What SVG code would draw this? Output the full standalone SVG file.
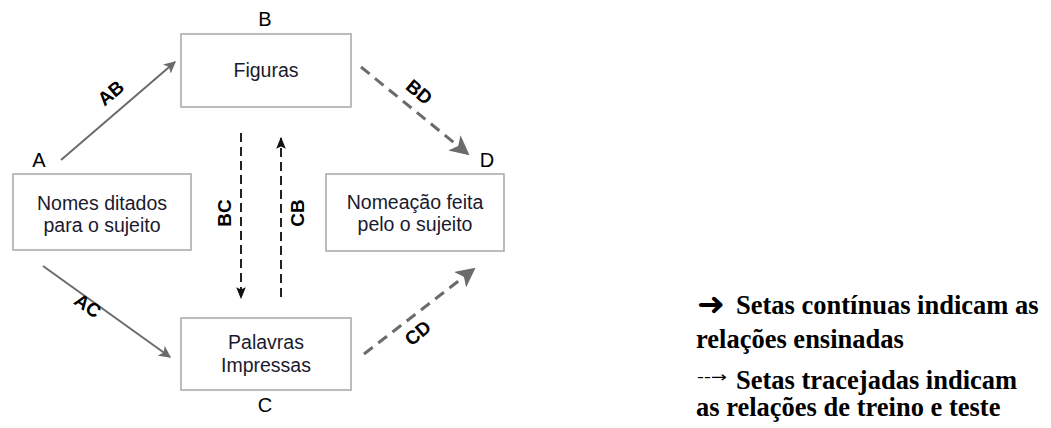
<svg xmlns="http://www.w3.org/2000/svg" width="1051" height="428" viewBox="0 0 1051 428">
  <style>
    .box { fill: #ffffff; stroke: #a6a6a6; stroke-width: 1.5; }
    .txt { font-family: "Liberation Sans", Arial, sans-serif; font-size: 19.5px; fill: #1a1a2e; text-anchor: middle; }
    .tag { font-family: "Liberation Sans", Arial, sans-serif; font-size: 20px; fill: #000; text-anchor: middle; }
    .elab { font-family: "Liberation Sans", Arial, sans-serif; font-size: 19px; font-weight: bold; fill: #000; text-anchor: middle; }
    .solid { stroke: #6b6b6b; stroke-width: 2; fill: none; }
    .dgray { stroke: #6b6b6b; stroke-width: 3; stroke-dasharray: 11 7; fill: none; }
    .dblack { stroke: #222; stroke-width: 2; stroke-dasharray: 9 5; fill: none; }
    .legend { font-family: "Liberation Serif", "Times New Roman", serif; font-size: 26.5px; font-weight: bold; fill: #000; }
    .sym { font-family: "DejaVu Sans", sans-serif; fill: #000; }
  </style>
  <defs>
    <marker id="headGray" viewBox="0 0 10 10" refX="9" refY="5" markerWidth="6" markerHeight="6" markerUnits="strokeWidth" orient="auto">
      <path d="M0,0 L10,5 L0,10 L2.5,5 z" fill="#6b6b6b"/>
    </marker>
    <marker id="headGrayBig" viewBox="0 0 10 10" refX="9" refY="5" markerWidth="6.5" markerHeight="6.5" markerUnits="strokeWidth" orient="auto">
      <path d="M0,0 L10,5 L0,10 L2.5,5 z" fill="#6b6b6b"/>
    </marker>
    <marker id="headBlack" viewBox="0 0 10 10" refX="9" refY="5" markerWidth="6" markerHeight="6" markerUnits="strokeWidth" orient="auto">
      <path d="M0,1 L10,5 L0,9 L2,5 z" fill="#111"/>
    </marker>
  </defs>

  <!-- Connectors -->
  <g id="connectors">
    <line id="AB" class="solid" x1="61" y1="160" x2="175" y2="62" marker-end="url(#headGray)"/>
    <line id="AC" class="solid" x1="43" y1="266" x2="170" y2="357" marker-end="url(#headGray)"/>
    <line id="BD" class="dgray" x1="361" y1="67" x2="468" y2="154" marker-end="url(#headGrayBig)"/>
    <line id="CD" class="dgray" x1="364" y1="354" x2="474" y2="269" marker-end="url(#headGrayBig)"/>
    <line id="BC" class="dblack" x1="241" y1="133" x2="241" y2="298" marker-end="url(#headBlack)"/>
    <line id="CB" class="dblack" x1="281" y1="297" x2="281" y2="138" marker-end="url(#headBlack)"/>

    <text class="elab" transform="translate(115,98) rotate(-40)">AB</text>
    <text class="elab" transform="translate(84,311) rotate(35)">AC</text>
    <text class="elab" transform="translate(415,97) rotate(40)">BD</text>
    <text class="elab" transform="translate(422,338) rotate(-40)">CD</text>
    <text class="elab" transform="translate(231,213) rotate(-90)">BC</text>
    <text class="elab" transform="translate(304,213) rotate(-90)">CB</text>
  </g>

  <!-- Node A -->
  <g id="nodeA">
    <text class="tag" x="39" y="167">A</text>
    <rect class="box" x="13" y="174" width="178" height="76"/>
    <text class="txt" x="102" y="210">Nomes ditados</text>
    <text class="txt" x="102" y="232">para o sujeito</text>
  </g>

  <!-- Node B -->
  <g id="nodeB">
    <text class="tag" x="265" y="26">B</text>
    <rect class="box" x="181" y="34" width="170" height="73"/>
    <text class="txt" x="266" y="77">Figuras</text>
  </g>

  <!-- Node C -->
  <g id="nodeC">
    <rect class="box" x="181" y="318" width="170" height="72"/>
    <text class="txt" x="266" y="349">Palavras</text>
    <text class="txt" x="266" y="372">Impressas</text>
    <text class="tag" x="265" y="412">C</text>
  </g>

  <!-- Node D -->
  <g id="nodeD">
    <text class="tag" x="487" y="167">D</text>
    <rect class="box" x="326" y="174" width="178" height="77"/>
    <text class="txt" x="415" y="209">Nomeação feita</text>
    <text class="txt" x="415" y="231">pelo o sujeito</text>
  </g>

  <!-- Legend -->
  <g id="legend">
    <text class="sym" x="697" y="315" font-size="32" textLength="28" lengthAdjust="spacingAndGlyphs">➜</text>
    <text class="legend" x="736" y="314">Setas contínuas indicam as</text>
    <text class="legend" x="696" y="348">relações ensinadas</text>
    <text class="sym" x="697" y="382" font-size="15" textLength="30" lengthAdjust="spacingAndGlyphs">--→</text>
    <text class="legend" x="736" y="389">Setas tracejadas indicam</text>
    <text class="legend" x="696" y="416">as relações de treino e teste</text>
  </g>
</svg>
